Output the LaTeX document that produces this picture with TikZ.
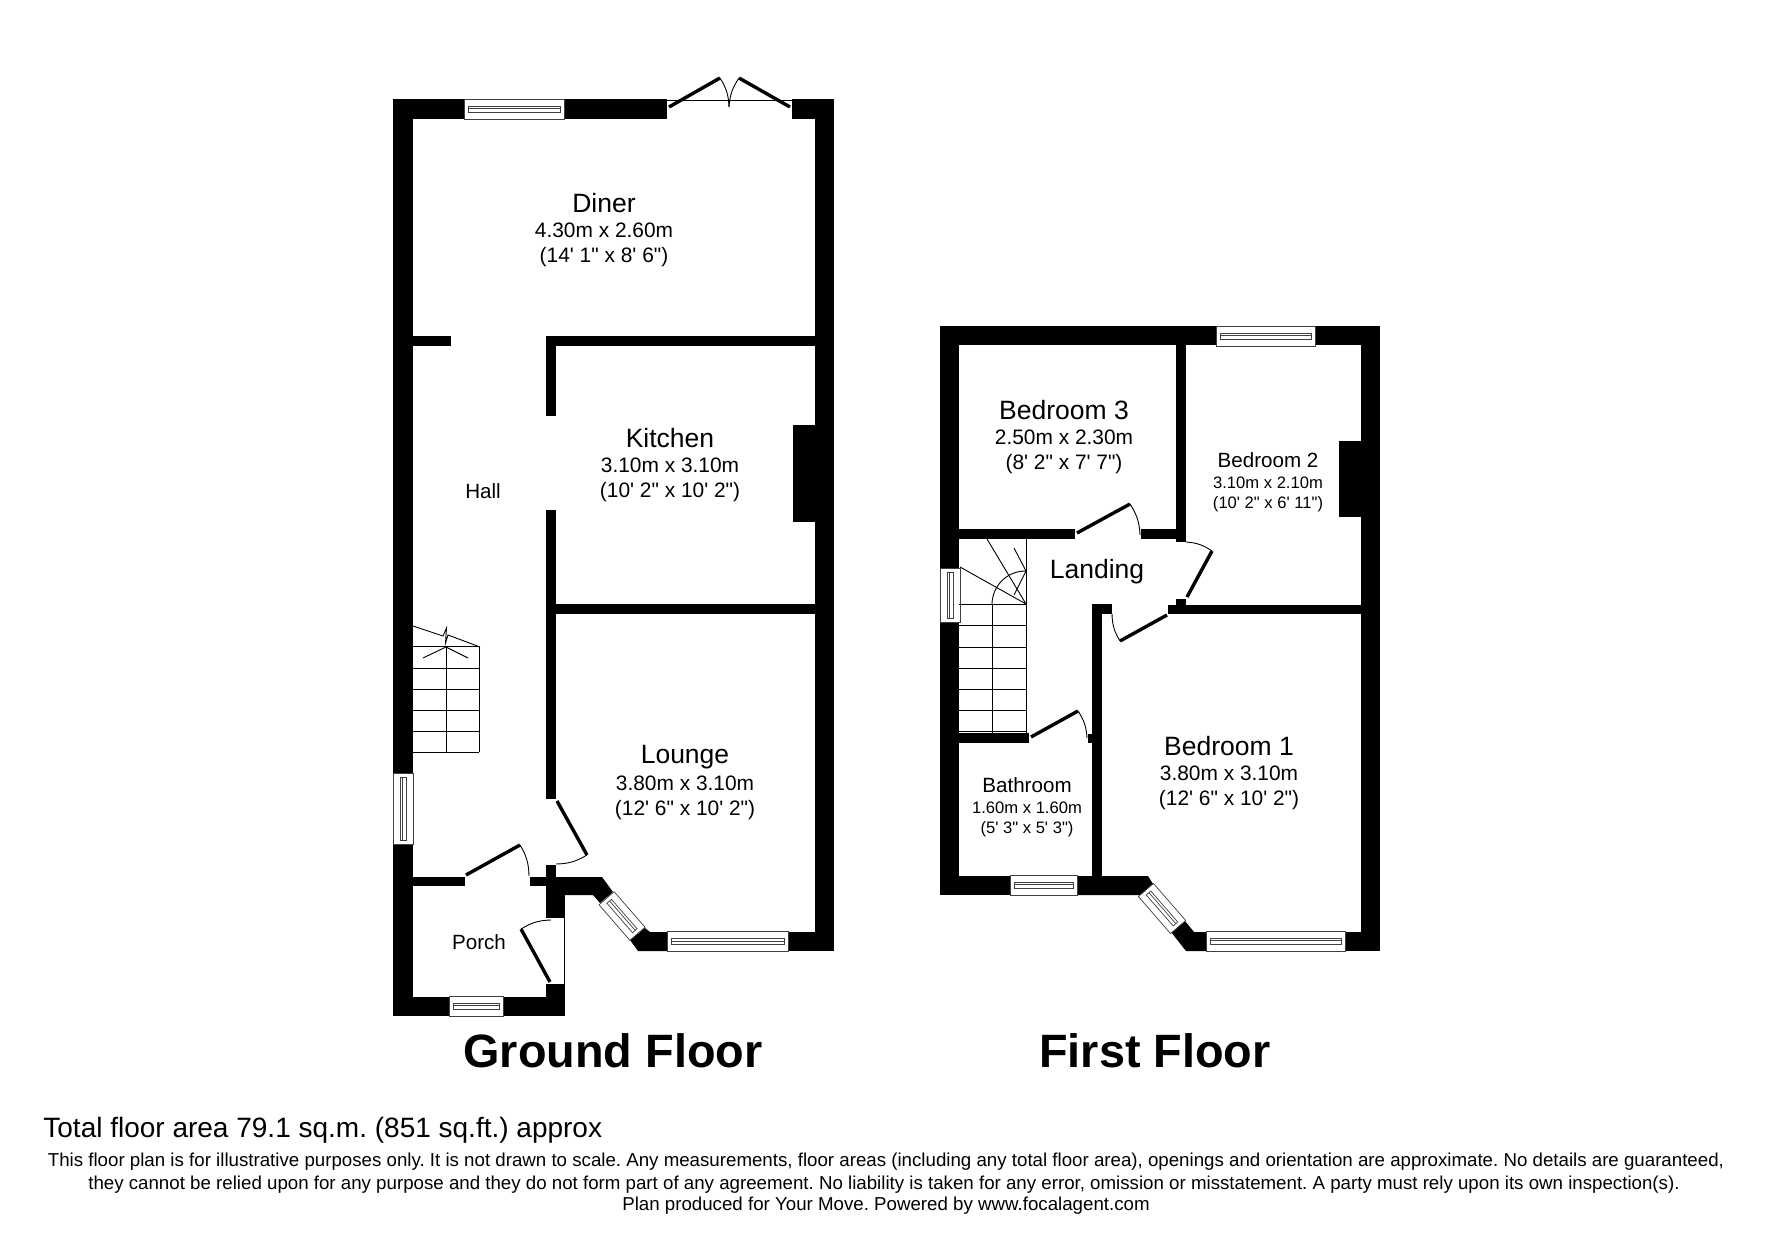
\documentclass[tikz,border=0pt]{standalone}
\usepackage{fontspec}
\setmainfont[Ligatures=TeXOff]{Liberation Sans}
\usepackage{tikz}
\usetikzlibrary{positioning}
\frenchspacing
\tikzset{
  wall/.style={fill=black},
  glazing/.style={draw=black!75, fill=white, line width=0.35pt},
  leaf/.style={line width=1.7pt},
  swing/.style={line width=0.45pt},
  tread/.style={line width=0.45pt},
  roomname/.style={anchor=base, inner sep=0pt, font=\fontsize{13.25}{15}\selectfont},
  roomsize/.style={anchor=base, inner sep=0pt, font=\fontsize{10.45}{12}\selectfont},
  smallname/.style={anchor=base, inner sep=0pt, font=\fontsize{10.3}{12}\selectfont},
  smallsize/.style={anchor=base, inner sep=0pt, font=\fontsize{8.3}{10}\selectfont},
  floorname/.style={anchor=base, inner sep=0pt, font=\fontsize{23.4}{26}\selectfont\bfseries},
  areatext/.style={anchor=base west, inner sep=0pt, font=\fontsize{14}{16}\selectfont},
  finetext/.style={anchor=base, inner sep=0pt, font=\fontsize{9.35}{11}\selectfont}
}

\begin{document}
\begin{tikzpicture}[x=0.5pt, y=-0.5pt]
  \useasboundingbox (0,0) rectangle (1771,1240);
  \foreach \xa/\ya/\xb/\yb in {393/99/413/1016, 393/99/464/119, 564/99/667/119, 792/99/834/119, 815/99/834/951,
    413/336/451/346, 546/336/815/346, 546/336/556/416, 546/510/556/799, 546/604/815/614, 793/425/815/522,
    413/877/465/886, 530/877/565/886, 546/865/556/877, 546/877/565/918, 788/932/834/951,
    393/997/449/1016, 503/997/565/1016, 546/984/565/1016,
    940/326/959/568, 940/622/959/895, 940/326/1216/345, 1315/326/1380/345, 1361/326/1380/951,
    1176/345/1186/542, 1339/441/1361/517, 959/529/1075/539, 1141/529/1176/539,
    1168/605/1361/614, 1176/599/1186/605, 1092/604/1102/876, 1092/604/1112/614,
    959/733/1029/743, 1088/734/1092/743, 940/876/1010/895, 1345/932/1380/951} {
    \fill[wall] (\xa,\ya) rectangle (\xb,\yb);
  }
  \fill[wall] (546,877) -- (602,877) -- (613,892) -- (600,903) -- (593,895) -- (546,895) -- cycle;
  \fill[wall] (645,928) -- (650,932) -- (667,932) -- (667,951) -- (638,951) -- (630,940) -- cycle;
  \fill[wall] (1077,876) -- (1148,876) -- (1153,884) -- (1141,895) -- (1077,895) -- cycle;
  \fill[wall] (1185,921) -- (1194,932) -- (1206,932) -- (1206,951) -- (1186,951) -- (1171,932) -- cycle;

  \foreach \cx/\cy/\len/\ang in {514/109/100/0, 403/808.5/71/90, 727.5/941.5/121/0, 476/1006/54/0, 622/916/47/-49,
    1265.5/336/99/0, 950/595/54/90, 1043.5/885/67/0, 1275.5/941/139/0, 1162/908.5/49/-49} {
    \begin{scope}[shift={(\cx,\cy)}, rotate=\ang]
      \draw[glazing] ({-\len/2},-10) rectangle ({\len/2},10);
      \draw[glazing] ({-\len/2+4},-3) rectangle ({\len/2-4},3);
      \draw[glazing] ({-\len/2+4},-0.5) -- ({\len/2-4},-0.5);
    \end{scope}
  }

  \foreach \hx/\hy/\tx/\ty/\ex/\ey/\bnd in {669/107/720/78/729/107/15, 790/107/739/78/729/107/-15,
    466/875/520/845/529/876/15, 557/801/587/855/556/864/15, 550/982/521/929/551/920/15,
    1077/533/1130/504/1140/535/15, 1187/597/1212/551/1186/542/-15, 1167/615/1120/641/1112/614/15,
    1031/737/1078/711/1087/738/15} {
    \draw[leaf] (\hx,\hy) -- (\tx,\ty);
    \draw[swing] (\tx,\ty) to[bend left=\bnd] (\ex,\ey);
  }
  \draw[swing] (667,100) -- (792,100);
  \draw[swing] (564,918) -- (564,984);

  \foreach \yy in {646,668,689,710,731,752} {
    \draw[tread] (413,\yy) -- (479,\yy);
  }
  \draw[tread] (446,646) -- (446,752);
  \draw[tread] (479,647) -- (479,752);
  \draw[tread] (413,626) -- (443,636) -- (446.5,628) -- (445.5,643) -- (448,635) -- (480,647);
  \draw[tread] (423,658) -- (446,647) -- (468,658);

  \foreach \yy in {604,625,647,668,689,710,731} {
    \draw[tread] (959,\yy) -- (1026,\yy);
  }
  \draw[tread] (992,604) -- (992,733);
  \draw[tread] (1026,539) -- (1026,733);
  \draw[tread] (960,567) -- (1026,604) -- (987,539);
  \draw[tread] (1014,548) -- (1026,571) -- (1014,595);
  \draw[tread] (992,604) to[bend left=45] (1026,571);

  \foreach \nm/\xx/\yy/\yb/\yc/\ttl/\dims/\imp in {diner/604/212.7/238/262.7/Diner/4.30m x 2.60m/(14' 1" x 8' 6"),
    kitchen/670/447.3/473/497.5/Kitchen/3.10m x 3.10m/(10' 2" x 10' 2"),
    lounge/685/763.3/790/815/Lounge/3.80m x 3.10m/(12' 6" x 10' 2"),
    bedthree/1064/419.3/445/469.5/Bedroom 3/2.50m x 2.30m/(8' 2" x 7' 7"),
    bedone/1229/755/780.5/805/Bedroom 1/3.80m x 3.10m/(12' 6" x 10' 2")} {
    \node[roomname] (\nm) at (\xx,\yy) {\ttl};
    \node[roomsize] (\nm-m) at (\xx,\yb) {\dims};
    \node[roomsize] (\nm-ft) at (\xx,\yc) {\imp};
  }
  \foreach \nm/\xx/\yy/\yb/\yc/\ttl/\dims/\imp in {bedtwo/1268/467.5/489/508.5/Bedroom 2/3.10m x 2.10m/(10' 2" x 6' 11"),
    bathroom/1027/792.7/813.5/833/Bathroom/1.60m x 1.60m/(5' 3" x 5' 3")} {
    \node[smallname] (\nm) at (\xx,\yy) {\ttl};
    \node[smallsize] (\nm-m) at (\xx,\yb) {\dims};
    \node[smallsize] (\nm-ft) at (\xx,\yc) {\imp};
  }
  \node[roomname] (landing) at (1097,578.3) {Landing};
  \node[smallname] (hall) at (483,499) {Hall};
  \node[smallname] (porch) at (479,949) {Porch};

  \node[floorname] (ground) at (613,1067) {Ground Floor};
  \node[floorname] (first) at (1155,1067) {First Floor};

  \node[areatext] (area) at (43,1137) {Total floor area 79.1 sq.m. (851 sq.ft.) approx};
  \node[finetext] (fineone) at (886,1166.7) {This floor plan is for illustrative purposes only. It is not drawn to scale. Any measurements, floor areas (including any total floor area), openings and orientation are approximate. No details are guaranteed,};
  \node[finetext] (finetwo) at (884,1189) {they cannot be relied upon for any purpose and they do not form part of any agreement. No liability is taken for any error, omission or misstatement. A party must rely upon its own inspection(s).};
  \node[finetext] (finethree) at (886,1210) {Plan produced for Your Move. Powered by www.focalagent.com};
\end{tikzpicture}
\end{document}
